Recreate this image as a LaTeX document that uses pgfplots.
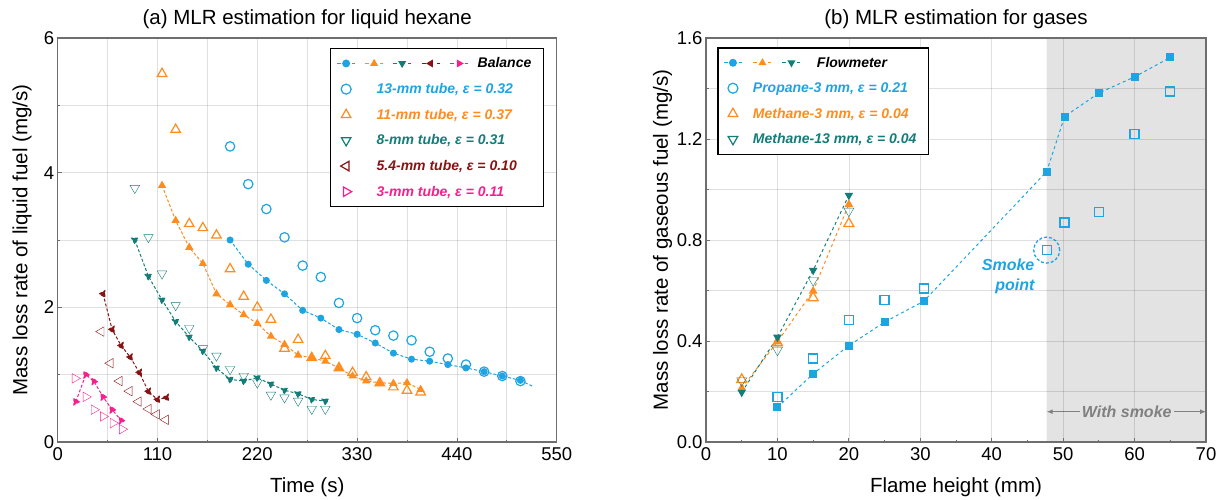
\documentclass[border=0pt]{standalone}
\usepackage{fontspec}
\setmainfont{Liberation Sans}
\usepackage{pgfplots}
\pgfplotsset{compat=1.18}
\usetikzlibrary{arrows.meta}
\definecolor{cA}{RGB}{30,165,225}
\definecolor{cB}{RGB}{255,140,30}
\definecolor{cC}{RGB}{20,125,120}
\definecolor{cD}{RGB}{135,20,20}
\definecolor{cE}{RGB}{250,30,140}
\definecolor{frm}{RGB}{110,110,110}
\definecolor{shade}{RGB}{227,227,227}
\definecolor{smk}{RGB}{128,128,128}

\newcommand{\legmini}[4]{%
 \draw[#1, line width=1pt, dash pattern=on 4pt off 3.5pt] ({(#4-9)*1pt},0pt) -- ({(#4+9)*1pt},0pt);
 \draw[#1, mark=#2, mark size=3.3pt, mark options={solid,#3}] plot coordinates {({#4*1pt},0pt)};
}

\pgfplotsset{
 base/.style={
  scale only axis, width=499pt, height=404pt,
  axis line style={draw=frm, line width=1.2pt},
  tick style={draw=frm, line width=0.8pt},
  tick align=inside, major tick length=4pt, minor tick length=2.5pt,
  xtick pos=bottom, ytick pos=left,
  minor x tick num=1, minor y tick num=1,
  grid=both,
  major grid style={draw=black, draw opacity=0.12, line width=0.7pt},
  minor grid style={draw=black, draw opacity=0.12, line width=0.7pt},
  tick label style={font=\fontsize{18.5}{20}\selectfont},
  xticklabel style={yshift=-2pt},
  label style={font=\fontsize{20.5}{23}\selectfont},
  title style={font=\fontsize{20.5}{23}\selectfont},
  /pgf/number format/assume math mode=true,
  xlabel style={at={(axis description cs:0.5,0)}, anchor=base, yshift=-50pt},
  legend cell align=left,
  legend style={draw=black, line width=1.3pt, fill=white,
    font=\fontsize{14}{16}\selectfont\bfseries\itshape,
    inner xsep=10pt, inner ysep=7pt, row sep=10pt, nodes={inner sep=2pt}},
  enlargelimits=false,
 },
 mkleg/.style={legend image code/.code={\draw[##1] plot coordinates {(0pt,0pt)};}},
 ln/.style={line width=1pt, dash pattern=on 3pt off 2pt, mark options={solid}},
 op/.style={only marks, mark options={solid, line width=1.2pt, fill=none}},
}

\begin{document}
\begin{tikzpicture}

% ---------------- (a) ----------------
\begin{axis}[base, name=L, at={(0pt,0pt)}, anchor=south west,
  xmin=0, xmax=550, ymin=0, ymax=6,
  xtick={0,110,220,330,440,550}, ytick={0,2,4,6},
  title={(a) MLR estimation for liquid hexane},
  xlabel={Time (s)},
  ylabel={Mass loss rate of liquid fuel (mg/s)},
  ylabel style={at={(axis description cs:-0.0716,0.5)}, anchor=center},
  legend style={at={(axis description cs:1,1)}, anchor=north east, xshift=-12.7pt, yshift=-10pt, column sep=23pt},
]
% 13 mm
\addplot[cA, ln, mark=*, mark size=3, forget plot] coordinates {
(190,3.00) (210,2.64) (230,2.40) (250,2.20) (270,1.955) (290,1.84) (310,1.67) (330,1.60) (350,1.47) (370,1.32) (390,1.23) (410,1.20) (430,1.15) (450,1.10) (470,1.045) (490,0.98) (510,0.915)};
\addplot[cA, ln, forget plot] coordinates {(510,0.915) (523,0.83)};
\addplot[cA, op, mark=o, mark size=4.7, forget plot] coordinates {
(190,4.39) (210,3.83) (230,3.46) (250,3.04) (270,2.62) (290,2.45) (310,2.065) (330,1.84) (350,1.66) (370,1.58) (390,1.51) (410,1.34) (430,1.24) (450,1.15) (470,1.045) (490,0.98) (510,0.905)};
% 11 mm
\addplot[cB, ln, mark=triangle*, mark size=3.8, forget plot] coordinates {
(115,3.81) (130,3.29) (145,2.89) (160,2.65) (175,2.20) (190,2.04) (205,1.89) (220,1.76) (235,1.57) (250,1.45) (265,1.29) (280,1.25) (295,1.20) (310,1.10) (325,0.98) (340,0.905) (355,0.88) (370,0.87) (385,0.88) (400,0.78)};
\addplot[cB, op, mark=triangle, mark size=5.5, forget plot] coordinates {
(115,5.47) (130,4.64) (145,3.24) (160,3.18) (175,3.07) (190,2.57) (205,2.16) (220,2.00) (235,1.82) (250,1.39) (265,1.52) (280,1.25) (295,1.28) (310,1.10) (325,1.03) (340,0.965) (355,0.875) (370,0.815) (385,0.765) (400,0.74)};
% 8 mm
\addplot[cC, ln, mark=triangle*, mark size=3.8, mark options={rotate=180}, forget plot] coordinates {
(85,3.00) (100,2.46) (115,2.11) (130,1.79) (145,1.56) (160,1.35) (175,1.10) (190,0.93) (205,0.905) (220,0.955) (235,0.86) (250,0.77) (265,0.716) (280,0.632) (295,0.607)};
\addplot[cC, op, mark=triangle, mark size=5.5, mark options={rotate=180}, forget plot] coordinates {
(85,3.77) (100,3.04) (115,2.50) (130,2.03) (145,1.69) (160,1.39) (175,1.28) (190,1.08) (205,0.98) (220,0.88) (235,0.70) (250,0.66) (265,0.61) (280,0.49) (295,0.49)};
% 5.4 mm
\addplot[cD, ln, mark=triangle*, mark size=3.8, mark options={rotate=90}, forget plot] coordinates {
(50,2.20) (60,1.67) (70,1.43) (80,1.26) (90,1.03) (100,0.75) (110,0.63) (120,0.66)};
\addplot[cD, op, mark=triangle, mark size=5.5, mark options={rotate=90}, forget plot] coordinates {
(48,1.64) (58,1.17) (68,0.905) (79,0.755) (89,0.60) (100,0.49) (109,0.41) (119,0.33)};
% 3 mm
\addplot[cE, ln, mark=triangle*, mark size=3.8, mark options={rotate=270}, forget plot] coordinates {
(20,0.60) (31,1.00) (40,0.90) (50,0.67) (60,0.48) (70,0.32)};
\addplot[cE, op, mark=triangle, mark size=5.5, mark options={rotate=270}, forget plot] coordinates {
(19,0.945) (31,0.67) (40,0.48) (50,0.38) (61,0.28) (71,0.19)};
% legend
\addlegendimage{legend image code/.code={\begin{scope}[overlay]\legmini{cA}{*}{}{0}\legmini{cB}{triangle*}{}{28}\legmini{cC}{triangle*}{rotate=180}{56}\legmini{cD}{triangle*}{rotate=90}{84.5}\legmini{cE}{triangle*}{rotate=270}{113}\end{scope}\path (0pt,0pt);}}
\addlegendentry{\hspace*{101pt}Balance}
\addlegendimage{mkleg, cA, mark=o, mark size=5, mark options={line width=1.2pt}}
\addlegendentry{\textcolor{cA}{13-mm tube, ε = 0.32}}
\addlegendimage{mkleg, cB, mark=triangle, mark size=5.5, mark options={line width=1.2pt}}
\addlegendentry{\textcolor{cB}{11-mm tube, ε = 0.37}}
\addlegendimage{mkleg, cC, mark=triangle, mark size=5.5, mark options={line width=1.2pt, rotate=180}}
\addlegendentry{\textcolor{cC}{8-mm tube, ε = 0.31}}
\addlegendimage{mkleg, cD, mark=triangle, mark size=5.5, mark options={line width=1.2pt, rotate=90}}
\addlegendentry{\textcolor{cD}{5.4-mm tube, ε = 0.10}}
\addlegendimage{mkleg, cE, mark=triangle, mark size=5.5, mark options={line width=1.2pt, rotate=270}}
\addlegendentry{\textcolor{cE}{3-mm tube, ε = 0.11}}
\end{axis}

% ---------------- (b) ----------------
\begin{axis}[base, name=R, at={(L.south west)}, anchor=south west, xshift=648.3pt, width=500pt, axis on top,
  xmin=0, xmax=70, ymin=0, ymax=1.6,
  xtick={0,10,...,70}, ytick={0,0.4,0.8,1.2,1.6},
  xminorgrids=false,
  yticklabel style={/pgf/number format/.cd, fixed, fixed zerofill, precision=1},
  title={(b) MLR estimation for gases},
  xlabel={Flame height (mm)},
  ylabel={Mass loss rate of gaseous fuel (mg/s)},
  ylabel style={at={(axis description cs:-0.087,0.5)}, anchor=center},
  legend style={at={(axis description cs:0,1)}, anchor=north west, xshift=11.3pt, yshift=-9.3pt, column sep=13pt},
]
\addplot[draw=none, fill=shade, forget plot] coordinates {(47.7,0) (47.7,1.6) (70,1.6) (70,0)} \closedcycle;
% propane
\addplot[cA, line width=1pt, dash pattern=on 3pt off 3pt, mark=square*, mark size=3.5, mark options={solid}, forget plot] coordinates {
(10,0.1375) (15,0.27) (20,0.382) (25,0.475) (30.5,0.558) (47.7,1.071) (50.2,1.289) (55,1.382) (60,1.446) (65,1.523)};
\addplot[cA, op, mark=square, mark size=4.5, forget plot] coordinates {
(10,0.177) (15,0.331) (20,0.484) (25,0.561) (30.5,0.608) (47.7,0.760) (50.2,0.869) (55,0.912) (60,1.219) (65,1.388)};
% methane 3 mm
\addplot[cB, line width=1pt, dash pattern=on 3pt off 3pt, mark=triangle*, mark size=4, mark options={solid}, forget plot] coordinates {
(5,0.214) (10,0.397) (15,0.598) (20,0.941)};
\addplot[cB, op, mark=triangle, mark size=5.8, forget plot] coordinates {
(5,0.247) (10,0.393) (15,0.571) (20,0.865)};
% methane 13 mm
\addplot[cC, line width=1pt, dash pattern=on 3pt off 3pt, mark=triangle*, mark size=4, mark options={solid, rotate=180}, forget plot] coordinates {
(5,0.197) (10,0.415) (15,0.680) (20,0.977)};
\addplot[cC, op, mark=triangle, mark size=5.8, mark options={rotate=180}, forget plot] coordinates {
(5,0.243) (10,0.364) (15,0.640) (20,0.915)};
% annotations
\draw[cA, line width=1.3pt, dash pattern=on 3pt off 2pt] (axis cs:47.7,0.76) circle (13pt);
\node[cA, font=\fontsize{16}{19.5}\selectfont\bfseries\itshape, align=right, anchor=east, inner sep=0pt] at (axis cs:46,0.656) {Smoke\\point};
\draw[smk, line width=1pt, {Latex[length=6pt,width=5pt]}-{Latex[length=6pt,width=5pt]}] (axis cs:47.7,0.12) -- (axis cs:70,0.12);
\node[smk, fill=shade, font=\fontsize{16}{19}\selectfont\bfseries\itshape, inner sep=2pt] at (axis cs:58.9,0.12) {With smoke};
% legend
\addlegendimage{legend image code/.code={\begin{scope}[overlay]\legmini{cA}{*}{}{0}\legmini{cB}{triangle*}{}{29.5}\legmini{cC}{triangle*}{rotate=180}{58.5}\end{scope}\path (0pt,0pt);}}
\addlegendentry{\hspace*{64pt}Flowmeter}
\addlegendimage{mkleg, cA, mark=o, mark size=5, mark options={line width=1.2pt}}
\addlegendentry{\textcolor{cA}{Propane-3 mm, ε = 0.21}}
\addlegendimage{mkleg, cB, mark=triangle, mark size=5.5, mark options={line width=1.2pt}}
\addlegendentry{\textcolor{cB}{Methane-3 mm, ε = 0.04}}
\addlegendimage{mkleg, cC, mark=triangle, mark size=5.5, mark options={line width=1.2pt, rotate=180}}
\addlegendentry{\textcolor{cC}{Methane-13 mm, ε = 0.04}}
\end{axis}
\pgfresetboundingbox
\useasboundingbox ([shift={(-57.7pt,-57pt)}]L.south west) rectangle ++(1226pt,499pt);
\end{tikzpicture}
\end{document}
